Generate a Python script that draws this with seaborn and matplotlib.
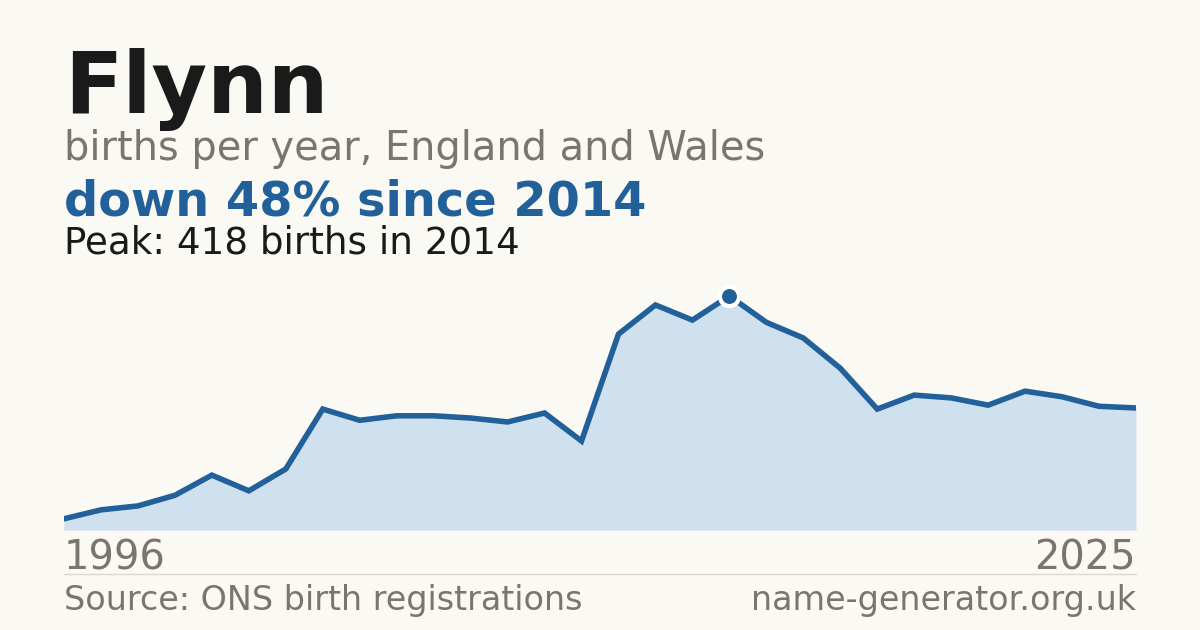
import pandas as pd
import matplotlib.pyplot as plt
import seaborn as sns

# Data
years = list(range(1996, 2026))
births = [20, 36, 43, 62, 98, 70, 109, 216, 196, 204,
          204, 200, 193, 209, 159, 350, 402, 375, 418, 371,
          343, 289, 216, 241, 236, 223, 248, 238, 221, 218]

name = "Flynn"
subtitle = "births per year, England and Wales"
headline = "down 48% since 2014"
peak_note = "Peak: 418 births in 2014"
source = "Source: ONS birth registrations"
site = "name-generator.org.uk"

df = pd.DataFrame({"year": years, "births": births})
peak = df.loc[df["births"].idxmax()]

bg = "#faf9f4"
blue = "#22609a"
fill = "#cfe0ef"
grey = "#7a756d"
dark = "#1a1a1a"

sns.set_theme(style="white")
plt.rcParams["font.family"] = ["DejaVu Sans"]

fig = plt.figure(figsize=(12, 6.3), dpi=100, facecolor=bg)
ax = fig.add_axes([64 / 1200, 1 - 530 / 630, 1072 / 1200, 250 / 630])
ax.set_facecolor(bg)

ax.fill_between(df["year"], df["births"], 0, color=fill, lw=0, zorder=1)
sns.lineplot(data=df, x="year", y="births", ax=ax, color=blue, lw=4,
             zorder=3, solid_joinstyle="miter")
ax.scatter([peak["year"]], [peak["births"]], s=190, color=blue,
           edgecolor="white", linewidth=3, zorder=5)

ax.set_xlim(years[0], years[-1])
ax.set_ylim(0, 446.6)
ax.set_xticks([])
ax.set_yticks([])
ax.set_xlabel("")
ax.set_ylabel("")
for s in ax.spines.values():
    s.set_visible(False)
ax.axhline(0, color="#e4ddd2", lw=1.2, zorder=2)

# Header text
fig.text(64 / 1200, 1 - 113 / 630, name, fontsize=61.5, fontweight="bold",
         color=dark, va="baseline")
fig.text(64 / 1200, 1 - 160 / 630, subtitle, fontsize=28.7, color=grey,
         va="baseline")
fig.text(64 / 1200, 1 - 215 / 630, headline, fontsize=34.5, fontweight="bold",
         color=blue, va="baseline")
fig.text(64 / 1200, 1 - 254 / 630, peak_note, fontsize=26.8, color=dark,
         va="baseline")

# Year labels
fig.text(64 / 1200, 1 - 570 / 630, str(years[0]), fontsize=28.8, color=grey,
         va="baseline", ha="left")
fig.text(1136 / 1200, 1 - 570 / 630, str(years[-1]), fontsize=28.8, color=grey,
         va="baseline", ha="right")

# Divider and footer
fig.add_artist(plt.Line2D([64 / 1200, 1136 / 1200], [1 - 574 / 630] * 2,
                          color="#dcd8d0", lw=1))
fig.text(64 / 1200, 1 - 610 / 630, source, fontsize=24, color=grey,
         va="baseline")
fig.text(1136 / 1200, 1 - 610 / 630, site, fontsize=24, color=grey,
         va="baseline", ha="right")

fig.savefig("out.png", dpi=100, facecolor=bg)
